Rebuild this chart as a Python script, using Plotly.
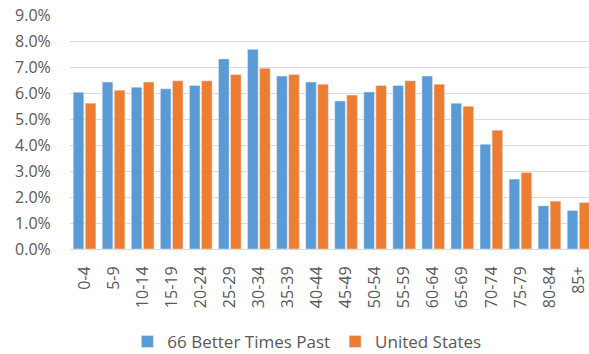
import plotly.graph_objects as go

categories = ["0-4", "5-9", "10-14", "15-19", "20-24", "25-29", "30-34", "35-39",
              "40-44", "45-49", "50-54", "55-59", "60-64", "65-69", "70-74",
              "75-79", "80-84", "85+"]
better_times = [6.03, 6.42, 6.22, 6.16, 6.29, 7.31, 7.68, 6.65, 6.42, 5.69,
                6.04, 6.29, 6.65, 5.61, 4.03, 2.69, 1.66, 1.48]
united_states = [5.61, 6.11, 6.42, 6.47, 6.47, 6.71, 6.95, 6.71, 6.34, 5.92,
                 6.29, 6.47, 6.34, 5.49, 4.57, 2.94, 1.84, 1.79]
y_ticks = [0, 1, 2, 3, 4, 5, 6, 7, 8, 9]
y_tick_labels = ["0.0%", "1.0%", "2.0%", "3.0%", "4.0%", "5.0%", "6.0%", "7.0%", "8.0%", "9.0%"]

FONT = "Open Sans"
GRAY = "#595959"

fig = go.Figure()
fig.add_trace(go.Bar(x=categories, y=better_times, name="66 Better Times Past",
                     marker=dict(color="#5B9BD5")))
fig.add_trace(go.Bar(x=categories, y=united_states, name="United States",
                     marker=dict(color="#ED7D31")))

fig.update_layout(
    width=589, height=354,
    margin=dict(l=70, r=0, t=15, b=105, autoexpand=False),
    paper_bgcolor="white", plot_bgcolor="white",
    barmode="group", bargap=0.17, bargroupgap=0.12,
    font=dict(family=FONT, size=16, color=GRAY),
    showlegend=True,
    legend=dict(orientation="h", xref="container", yref="container",
                x=0.521, y=0.034, xanchor="center", yanchor="middle",
                font=dict(family=FONT, size=17, color=GRAY)),
)
fig.update_xaxes(range=[-0.5, 17.36], showgrid=False, showline=False,
                 automargin=False, ticklabeloverflow="allow",
                 tickangle=-90, ticks="outside", ticklen=10,
                 tickcolor="rgba(0,0,0,0)",
                 tickfont=dict(family=FONT, size=16, color=GRAY))
fig.update_yaxes(range=[0, 9], tickvals=y_ticks, ticktext=y_tick_labels,
                 automargin=False, ticklabeloverflow="allow",
                 showgrid=True, gridcolor="#D9D9D9", gridwidth=1.2,
                 zeroline=True, zerolinecolor="#D9D9D9", zerolinewidth=1.2,
                 showline=False, ticks="outside", ticklen=15,
                 tickcolor="rgba(0,0,0,0)",
                 tickfont=dict(family=FONT, size=16, color=GRAY))

fig.write_html("out.html",
               config={"displayModeBar": False},
               post_script="document.body.style.margin='0';"
                           "document.body.style.overflow='hidden';")
